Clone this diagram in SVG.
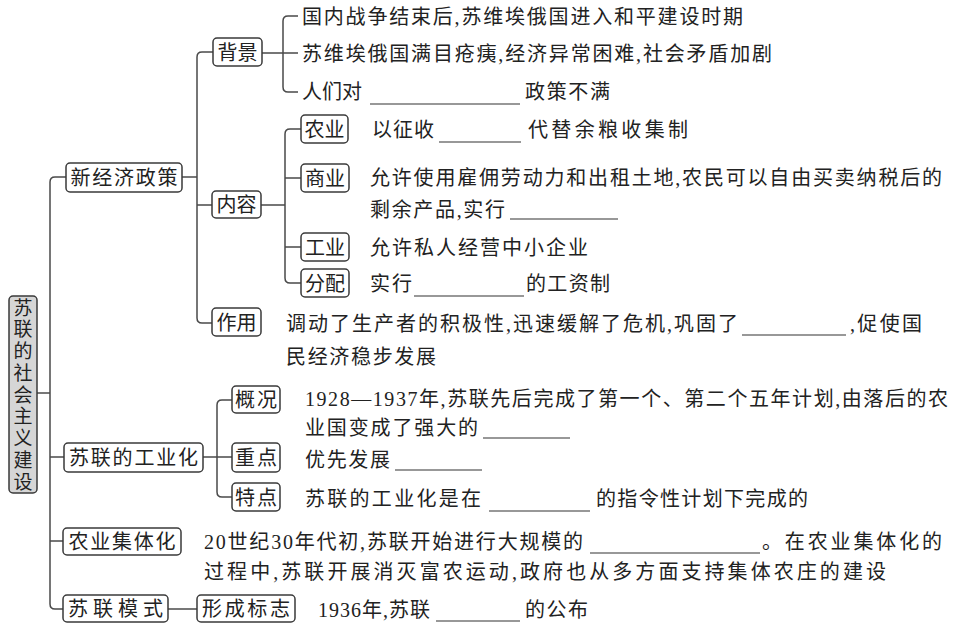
<svg xmlns="http://www.w3.org/2000/svg" width="960" height="628" viewBox="0 0 960 628">
<style>
.bg{fill:#ffffff}
.box{fill:#ffffff;stroke:#3a3a3a;stroke-width:1.5}
.rootbox{fill:#d6d6d6;stroke:#3a3a3a;stroke-width:1.5}
.ln{fill:none;stroke:#4a4a4a;stroke-width:1.5}
.ul{stroke:#333;stroke-width:1.2}
.lb{font-family:"Noto Sans CJK SC",sans-serif;font-size:20px;fill:#222;text-anchor:middle}
.tx{font-family:"Liberation Serif","Noto Sans CJK SC",sans-serif;font-size:20px;fill:#222}
.vt{font-family:"Noto Sans CJK SC",sans-serif;font-size:19px;fill:#222;writing-mode:vertical-rl}
</style>
<rect class="bg" x="0" y="0" width="960" height="628"/>
<g id="connectors">
<path class="ln" d="M37,393 H50"/>
<path class="ln" d="M66,177 H55 Q50,177 50,182 V604 Q50,609 55,609 H63"/>
<path class="ln" d="M50,457 H64 M50,541 H63"/>
<path class="ln" d="M182,177 H197"/>
<path class="ln" d="M213,52 H202 Q197,52 197,57 V318 Q197,323 202,323 H212 M197,205 H212"/>
<path class="ln" d="M262,53 H298 M298,16 H288 Q283,16 283,21 V87 Q283,92 288,92 H298"/>
<path class="ln" d="M261,205 H285 M301,129 H290 Q285,129 285,134 V278 Q285,283 290,283 H301 M285,178 H301 M285,247 H301"/>
<path class="ln" d="M203,457 H232 M232,400 H222 Q217,400 217,405 V492 Q217,497 222,497 H232"/>
<path class="ln" d="M168,609 H197"/>
</g>
<g id="root">
<rect class="rootbox" x="9" y="296" width="28" height="197" rx="4"/>
<text class="vt" x="23" y="298" textLength="193" lengthAdjust="spacing">苏联的社会主义建设</text>
</g>
<g id="xjjzc">
<rect class="box" x="66" y="163" width="116" height="29" rx="4"/>
<text class="lb" x="124" y="184.5" textLength="107" lengthAdjust="spacing">新经济政策</text>
</g>
<g id="beijing">
<rect class="box" x="213" y="38" width="49" height="28" rx="4"/>
<text class="lb" x="237.5" y="59.5" textLength="40" lengthAdjust="spacing">背景</text>
</g>
<g id="bj1"><text class="tx" x="302" y="23.5" textLength="441" lengthAdjust="spacing">国内战争结束后,苏维埃俄国进入和平建设时期</text></g>
<g id="bj2"><text class="tx" x="302" y="60.5" textLength="470" lengthAdjust="spacing">苏维埃俄国满目疮痍,经济异常困难,社会矛盾加剧</text></g>
<g id="bj3">
<text class="tx" x="302" y="98.5">人们对</text>
<line class="ul" x1="370" y1="104" x2="520" y2="104"/>
<text class="tx" x="525" y="98.5" textLength="85" lengthAdjust="spacing">政策不满</text>
</g>
<g id="neirong">
<rect class="box" x="212" y="191" width="49" height="27" rx="4"/>
<text class="lb" x="236.5" y="212" textLength="40" lengthAdjust="spacing">内容</text>
</g>
<g id="nongye">
<rect class="box" x="301" y="115" width="47" height="28" rx="4"/>
<text class="lb" x="324.5" y="136.5" textLength="40" lengthAdjust="spacing">农业</text>
</g>
<g id="nongye-t">
<text class="tx" x="372" y="136.5" textLength="62" lengthAdjust="spacing">以征收</text>
<line class="ul" x1="439" y1="142" x2="521" y2="142"/>
<text class="tx" x="528" y="136.5" textLength="160" lengthAdjust="spacing">代替余粮收集制</text>
</g>
<g id="shangye">
<rect class="box" x="301" y="164" width="48" height="28" rx="4"/>
<text class="lb" x="325" y="185.5" textLength="40" lengthAdjust="spacing">商业</text>
</g>
<g id="shangye-t">
<text class="tx" x="370" y="184.5" textLength="572" lengthAdjust="spacing">允许使用雇佣劳动力和出租土地,农民可以自由买卖纳税后的</text>
<text class="tx" x="370" y="216.5" textLength="135" lengthAdjust="spacing">剩余产品,实行</text>
<line class="ul" x1="510" y1="219" x2="618" y2="219"/>
</g>
<g id="gongye">
<rect class="box" x="301" y="233" width="48" height="28" rx="4"/>
<text class="lb" x="325" y="254.5" textLength="40" lengthAdjust="spacing">工业</text>
</g>
<g id="gongye-t"><text class="tx" x="370" y="254.5" textLength="218" lengthAdjust="spacing">允许私人经营中小企业</text></g>
<g id="fenpei">
<rect class="box" x="301" y="269" width="48" height="28" rx="4"/>
<text class="lb" x="325" y="290.5" textLength="40" lengthAdjust="spacing">分配</text>
</g>
<g id="fenpei-t">
<text class="tx" x="370" y="290.5" textLength="42" lengthAdjust="spacing">实行</text>
<line class="ul" x1="414" y1="296" x2="524" y2="296"/>
<text class="tx" x="526" y="290.5" textLength="84" lengthAdjust="spacing">的工资制</text>
</g>
<g id="zuoyong">
<rect class="box" x="212" y="308" width="49" height="28" rx="4"/>
<text class="lb" x="236.5" y="329.5" textLength="40" lengthAdjust="spacing">作用</text>
</g>
<g id="zuoyong-t">
<text class="tx" x="286" y="330.5" textLength="452" lengthAdjust="spacing">调动了生产者的积极性,迅速缓解了危机,巩固了</text>
<line class="ul" x1="742" y1="335" x2="846" y2="335"/>
<text class="tx" x="850" y="330.5" textLength="72" lengthAdjust="spacing">,促使国</text>
<text class="tx" x="286" y="363.5" textLength="150" lengthAdjust="spacing">民经济稳步发展</text>
</g>
<g id="gongyehua">
<rect class="box" x="64" y="443" width="139" height="29" rx="4"/>
<text class="lb" x="133.5" y="464.5" textLength="129" lengthAdjust="spacing">苏联的工业化</text>
</g>
<g id="gaikuang">
<rect class="box" x="232" y="386" width="48" height="27" rx="4"/>
<text class="lb" x="256" y="407" textLength="42" lengthAdjust="spacing">概况</text>
</g>
<g id="gaikuang-t">
<text class="tx" x="305" y="405.5" textLength="643" lengthAdjust="spacing">1928—1937年,苏联先后完成了第一个、第二个五年计划,由落后的农</text>
<text class="tx" x="305" y="434.5" textLength="173" lengthAdjust="spacing">业国变成了强大的</text>
<line class="ul" x1="483" y1="438" x2="570" y2="438"/>
</g>
<g id="zhongdian">
<rect class="box" x="232" y="443" width="48" height="29" rx="4"/>
<text class="lb" x="256" y="464.5" textLength="42" lengthAdjust="spacing">重点</text>
</g>
<g id="zhongdian-t">
<text class="tx" x="305" y="466.5" textLength="85" lengthAdjust="spacing">优先发展</text>
<line class="ul" x1="395" y1="470" x2="482" y2="470"/>
</g>
<g id="tedian">
<rect class="box" x="232" y="483" width="48" height="28" rx="4"/>
<text class="lb" x="256" y="504.5" textLength="42" lengthAdjust="spacing">特点</text>
</g>
<g id="tedian-t">
<text class="tx" x="305" y="505.5" textLength="176" lengthAdjust="spacing">苏联的工业化是在</text>
<line class="ul" x1="489" y1="511" x2="590" y2="511"/>
<text class="tx" x="596" y="505.5" textLength="212" lengthAdjust="spacing">的指令性计划下完成的</text>
</g>
<g id="jitihua">
<rect class="box" x="63" y="528" width="118" height="27" rx="4"/>
<text class="lb" x="122" y="549" textLength="107" lengthAdjust="spacing">农业集体化</text>
</g>
<g id="jitihua-t">
<text class="tx" x="204" y="548.5" textLength="379" lengthAdjust="spacing">20世纪30年代初,苏联开始进行大规模的</text>
<line class="ul" x1="590" y1="553" x2="760" y2="553"/>
<text class="tx" x="762" y="548.5" textLength="180" lengthAdjust="spacing">。在农业集体化的</text>
<text class="tx" x="204" y="578.5" textLength="682" lengthAdjust="spacing">过程中,苏联开展消灭富农运动,政府也从多方面支持集体农庄的建设</text>
</g>
<g id="moshi">
<rect class="box" x="63" y="595" width="105" height="27" rx="4"/>
<text class="lb" x="115.5" y="616" textLength="95" lengthAdjust="spacing">苏联模式</text>
</g>
<g id="biaozhi">
<rect class="box" x="197" y="595" width="98" height="27" rx="4"/>
<text class="lb" x="246" y="616" textLength="88" lengthAdjust="spacing">形成标志</text>
</g>
<g id="biaozhi-t">
<text class="tx" x="318" y="616.5" textLength="112" lengthAdjust="spacing">1936年,苏联</text>
<line class="ul" x1="436" y1="621" x2="520" y2="621"/>
<text class="tx" x="525" y="616.5" textLength="63" lengthAdjust="spacing">的公布</text>
</g>
</svg>
